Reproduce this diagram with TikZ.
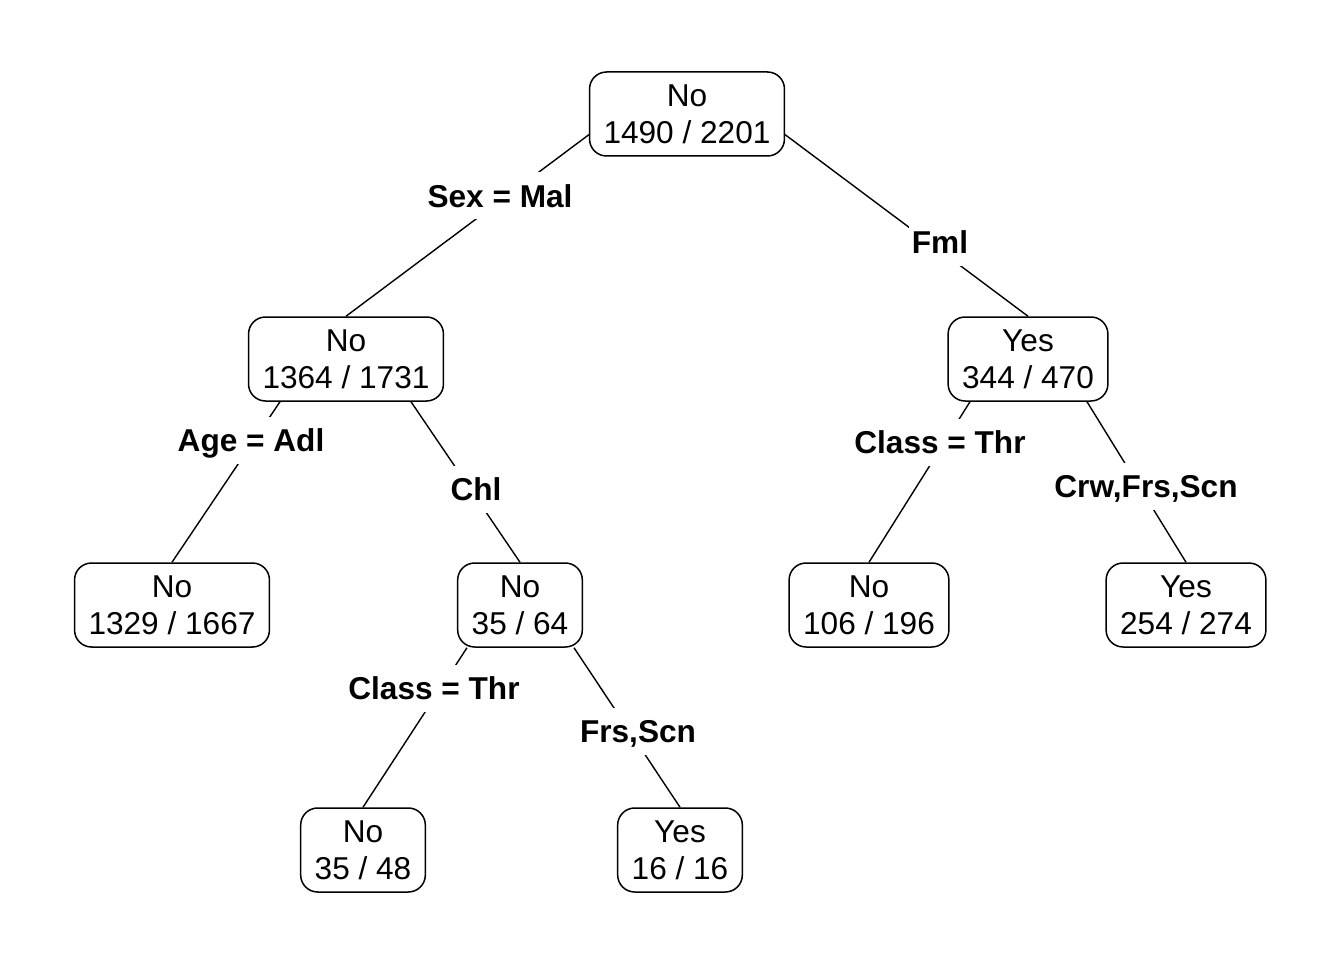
\documentclass[tikz,border=0pt]{standalone}
\usepackage{fontspec}
\setmainfont{Liberation Sans}
\usetikzlibrary{calc}
\begin{document}
\begin{tikzpicture}[x=1pt,y=-1pt,
  treenode/.style={draw,line width=1.5pt,rounded corners=17pt,align=center,
    font=\fontsize{31.6}{37}\selectfont,inner xsep=14pt,minimum height=84pt},
  branch/.style={line width=1.4pt},
  blabel/.style={fill=white,font=\fontsize{31.6}{37}\selectfont\bfseries,inner xsep=3pt,inner ysep=12pt,text height=23pt,text depth=0pt}]
\useasboundingbox (0,0) rectangle (1344,960);
\node[treenode] (r) at (687,114) {No\\1490 / 2201};
\node[treenode] (n2) at (346,359) {No\\1364 / 1731};
\node[treenode] (n3) at (1028,359) {Yes\\344 / 470};
\node[treenode] (l1) at (172,605) {No\\1329 / 1667};
\node[treenode] (n4) at (520,605) {No\\35 / 64};
\node[treenode] (l2) at (869,605) {No\\106 / 196};
\node[treenode] (l3) at (1186,605) {Yes\\254 / 274};
\node[treenode] (l4) at (363,850) {No\\35 / 48};
\node[treenode] (l5) at (680,850) {Yes\\16 / 16};
\coordinate (rL) at ($(r.west)+(1,20)$);
\coordinate (rR) at ($(r.east)+(-1,20)$);
\coordinate (n2L) at ($(n2.south)+(-66,0)$);
\coordinate (n2R) at ($(n2.south)+(65,0)$);
\coordinate (n3L) at ($(n3.south)+(-58,0)$);
\coordinate (n3R) at ($(n3.south)+(59,0)$);
\coordinate (n4L) at ($(n4.south)+(-53,0)$);
\coordinate (n4R) at ($(n4.south)+(54,0)$);
\draw[branch] (rL) -- (n2.north);
\draw[branch] (rR) -- (n3.north);
\draw[branch] (n2L) -- (l1.north);
\draw[branch] (n2R) -- (n4.north);
\draw[branch] (n3L) -- (l2.north);
\draw[branch] (n3R) -- (l3.north);
\draw[branch] (n4L) -- (l4.north);
\draw[branch] (n4R) -- (l5.north);
\node[blabel] (e1) at (500,196) {Sex = Mal};
\node[blabel] (e2) at (940,242) {Fml};
\node[blabel] (e3) at (251,440) {Age = Adl};
\node[blabel] (e4) at (476,489) {Chl};
\node[blabel] (e5) at (940,442) {Class = Thr};
\node[blabel] (e6) at (1146,486) {Crw,Frs,Scn};
\node[blabel] (e7) at (434,688) {Class = Thr};
\node[blabel] (e8) at (638,731) {Frs,Scn};
\end{tikzpicture}
\end{document}
